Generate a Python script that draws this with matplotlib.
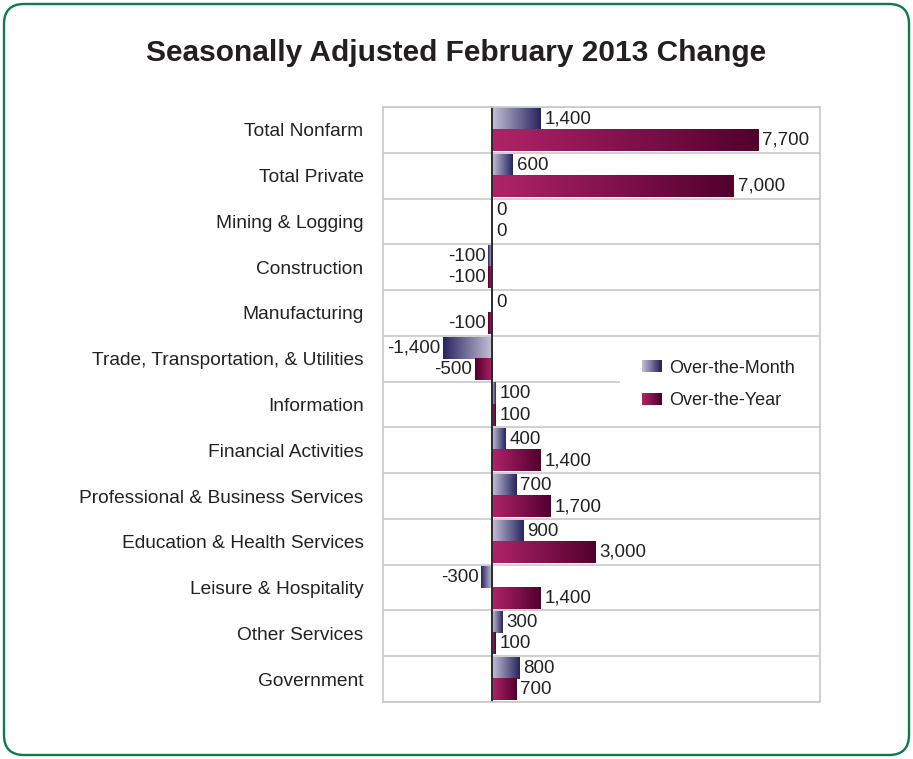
import numpy as np
import matplotlib
matplotlib.use("Agg")
import matplotlib.pyplot as plt
from matplotlib.colors import LinearSegmentedColormap
from matplotlib.patches import Rectangle, FancyBboxPatch
from matplotlib.legend_handler import HandlerBase
from matplotlib.transforms import IdentityTransform

categories = [
    "Total Nonfarm", "Total Private", "Mining & Logging", "Construction",
    "Manufacturing", "Trade, Transportation, & Utilities", "Information",
    "Financial Activities", "Professional & Business Services",
    "Education & Health Services", "Leisure & Hospitality",
    "Other Services", "Government",
]
over_month = [1400, 600, 0, -100, 0, -1400, 100, 400, 700, 900, -300, 300, 800]
over_year = [7700, 7000, 0, -100, -100, -500, 100, 1400, 1700, 3000, 1400, 100, 700]
series_names = ["Over-the-Month", "Over-the-Year"]

month_colors = ["#c4c0d6", "#26245f"]
year_colors = ["#b02468", "#52002e"]

plt.rcParams["font.family"] = ["Liberation Sans", "DejaVu Sans"]


class GradientHandler(HandlerBase):
    # legend swatch drawn as thin stripes, light to dark
    def __init__(self, colors, n=30):
        super().__init__()
        self.cmap = LinearSegmentedColormap.from_list("", colors)
        self.n = n

    def create_artists(self, legend, orig_handle, xdescent, ydescent,
                       width, height, fontsize, trans):
        arts = []
        for k in range(self.n):
            r = Rectangle((-xdescent + width * k / self.n, -ydescent),
                          width / self.n * 1.1, height,
                          facecolor=self.cmap(k / (self.n - 1)),
                          edgecolor="none", transform=trans)
            arts.append(r)
        return arts


fig = plt.figure(figsize=(9.13, 7.59), dpi=100)
ax = fig.add_axes([383 / 913, 57 / 759, 437 / 913, 595 / 759])

y = np.arange(len(categories))
h = 0.46
grad = np.linspace(0, 1, 256).reshape(1, -1)
cm_month = LinearSegmentedColormap.from_list("m", month_colors)
cm_year = LinearSegmentedColormap.from_list("y", year_colors)

bars_m = ax.barh(y - h / 2, over_month, height=h, color="none")
bars_y = ax.barh(y + h / 2, over_year, height=h, color="none")

for bars, vals, cmap in [(bars_m, over_month, cm_month), (bars_y, over_year, cm_year)]:
    for b, v in zip(bars, vals):
        y0 = b.get_y()
        y1 = y0 + b.get_height()
        if v != 0:
            ax.imshow(grad, cmap=cmap, aspect="auto", extent=[0, v, y1, y0],
                      interpolation="bilinear", zorder=2)
        txt = f"{v:,}"
        if v < 0:
            ax.annotate(txt, (v, (y0 + y1) / 2), xytext=(-2, 0),
                        textcoords="offset points", ha="right", va="center",
                        fontsize=13.5, color="#222222")
        else:
            ax.annotate(txt, (v, (y0 + y1) / 2), xytext=(3, 0),
                        textcoords="offset points", ha="left", va="center",
                        fontsize=13.5, color="#222222")

for i in range(len(categories) + 1):
    ax.axhline(i - 0.5, color="#c8c8c8", lw=1.2, zorder=1)
ax.axvline(0, color="#2a2a2a", lw=1.4, zorder=3)

# white legend area hiding the gridline behind it
ax.add_patch(Rectangle((0.542, 0.47), 0.46, 0.13, transform=ax.transAxes,
                       facecolor="white", edgecolor="none", zorder=1.5))

ax.set_xlim(-3150, 9500)
ax.set_ylim(len(categories) - 0.5, -0.5)
ax.set_xticks([])
ax.set_yticks(y)
ax.set_yticklabels(categories, fontsize=13.8, color="#222222")
ax.tick_params(axis="y", length=0, pad=14)
for s in ax.spines.values():
    s.set_color("#c8c8c8")
    s.set_linewidth(1.2)
    s.set_zorder(6)

handles = [Rectangle((0, 0), 1, 1), Rectangle((0, 0), 1, 1)]
leg = ax.legend(handles, series_names,
                handler_map={handles[0]: GradientHandler(month_colors),
                             handles[1]: GradientHandler(year_colors)},
                loc="center left", bbox_to_anchor=(0.538, 0.534),
                frameon=False, fontsize=13,
                handlelength=1.1, handleheight=0.65, labelspacing=0.85,
                handletextpad=0.4, borderpad=0.8)
leg.set_zorder(5)
for t in leg.get_texts():
    t.set_color("#222222")

fig.text(0.5, 1 - 53 / 759, "Seasonally Adjusted February 2013 Change",
         ha="center", va="center", fontsize=21.5, fontweight="bold",
         color="#231f20")

border = FancyBboxPatch((4, 4), 905, 751,
                        boxstyle="round,pad=0,rounding_size=20",
                        transform=IdentityTransform(), facecolor="none",
                        edgecolor="#0b7a4c", lw=1.7)
fig.patches.append(border)

fig.savefig("out.png", dpi=100)
